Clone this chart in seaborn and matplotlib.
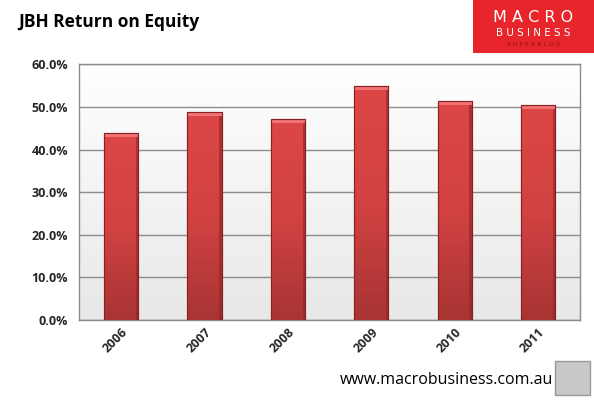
import numpy as np
import pandas as pd
import matplotlib
matplotlib.use("Agg")
import matplotlib.pyplot as plt
import seaborn as sns
from matplotlib.colors import LinearSegmentedColormap
from matplotlib.patches import Rectangle
from matplotlib.ticker import FuncFormatter, MultipleLocator

years = ["2006", "2007", "2008", "2009", "2010", "2011"]
roe = [0.438, 0.488, 0.471, 0.550, 0.514, 0.504]
title = "JBH Return on Equity"
footer = "www.macrobusiness.com.au"

sns.set_theme(style="white")
plt.rcParams['font.family'] = ['Open Sans', 'DejaVu Sans']

fig = plt.figure(figsize=(5.94, 4.0), dpi=100)
ax = fig.add_axes([0.1335, 0.2, 0.8425, 0.639])

df = pd.DataFrame({"year": years, "roe": roe})
sns.barplot(data=df, x="year", y="roe", color="#d84040", width=0.41,
            edgecolor="#8a2020", linewidth=0.8, saturation=1, ax=ax, zorder=3)

ax.set_ylim(0, 0.6)
ax.set_xlim(-0.5, len(years) - 0.5)
ax.yaxis.set_major_locator(MultipleLocator(0.1))
ax.yaxis.set_major_formatter(FuncFormatter(lambda v, p: f"{v*100:.1f}%"))
ax.grid(axis="y", color="#8c8c8c", linewidth=1.0, zorder=1)
ax.set_axisbelow(True)
ax.set_xlabel("")
ax.set_ylabel("")

# plot-area gradient background (white at top, light grey at bottom)
bg = np.linspace(0, 1, 256).reshape(-1, 1)
bg_cmap = LinearSegmentedColormap.from_list("bg", ["#ffffff", "#e8e8e8"])
ax.imshow(bg, cmap=bg_cmap, aspect="auto", extent=[0, 1, 0, 1], origin="upper",
          transform=ax.transAxes, zorder=0)

# gradient fill on bars (lighter at top, darker at bottom)
bar_cmap = LinearSegmentedColormap.from_list("bar", ["#dd4646", "#d24242", "#a83434"])
for p in ax.patches[:]:
    x0, y0 = p.get_x(), p.get_y()
    w, h = p.get_width(), p.get_height()
    grad = np.linspace(0, 1, 256).reshape(-1, 1)
    im = ax.imshow(grad, cmap=bar_cmap, aspect="auto", origin="upper",
                   extent=[x0, x0 + w, y0, y0 + h], zorder=3.5)
    im.set_clip_path(p)
    # top bevel highlight
    ax.add_patch(Rectangle((x0, y0 + h - 0.009), w, 0.009, facecolor="#f07272",
                           edgecolor="none", zorder=3.6))
    # darker right edge
    ax.add_patch(Rectangle((x0 + w * 0.93, y0), w * 0.07, h - 0.009, facecolor="#8e2626",
                           edgecolor="none", alpha=0.6, zorder=3.6))
    ax.add_patch(Rectangle((x0, y0), w, h, facecolor="none",
                           edgecolor="#8a2020", linewidth=0.8, zorder=3.7))

ax.set_xlim(-0.5, len(years) - 0.5)
ax.set_ylim(0, 0.6)

for s in ax.spines.values():
    s.set_color("#8c8c8c")
    s.set_linewidth(1.0)

ax.tick_params(axis="y", length=0, pad=8, labelsize=9)
ax.tick_params(axis="x", length=0, pad=4, labelsize=9)
for lab in ax.get_yticklabels():
    lab.set_fontweight("bold")
for lab in ax.get_xticklabels():
    lab.set_fontweight("bold")
    lab.set_rotation(45)
    lab.set_ha("right")
    lab.set_rotation_mode("anchor")

fig.text(0.03, 0.945, title, fontsize=12.5, fontweight="bold", ha="left", va="center",
         color="#000000")

# logo
fig.patches.append(Rectangle((0.796, 0.868), 0.204, 0.132, transform=fig.transFigure,
                             facecolor="#e8252b", edgecolor="none", zorder=5))
fig.text(0.898, 0.957, "M A C R O", fontsize=11.5, color="white", ha="center", va="center",
         zorder=6, family="DejaVu Sans")
fig.text(0.898, 0.917, "B U S I N E S S", fontsize=7.5, color="white", ha="center", va="center",
         zorder=6, family="DejaVu Sans")
fig.text(0.898, 0.888, "S U P E R B L O G", fontsize=4.5, color="#8a1010", ha="center",
         va="center", zorder=6, family="DejaVu Sans")

fig.text(0.931, 0.05, footer, fontsize=11.5, ha="right", va="center", color="#000000")
fig.patches.append(Rectangle((0.934, 0.0125), 0.06, 0.085, transform=fig.transFigure,
                             facecolor="#c8c8c8", edgecolor="#999999", linewidth=1, zorder=5))

fig.savefig("out.png", dpi=100, facecolor="white")
